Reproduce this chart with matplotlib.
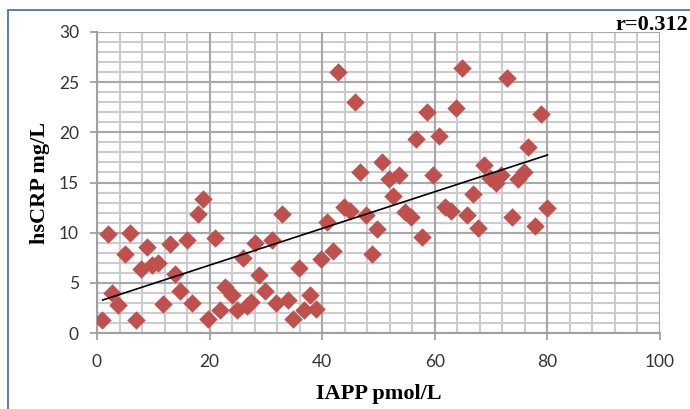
import matplotlib
matplotlib.use("Agg")
import matplotlib.pyplot as plt
import numpy as np
from matplotlib.patches import Rectangle

iapp = [0.9, 1.9, 2.7, 3.8, 5.0, 5.9, 6.9, 7.9, 8.8, 9.7, 10.9, 11.8, 12.9, 13.9,
        14.8, 15.9, 16.8, 17.9, 18.9, 19.8, 20.9, 21.9, 22.8, 23.9, 24.8, 25.9,
        26.6, 27.3, 28.0, 28.8, 29.8, 31.0, 31.8, 32.8, 33.9, 34.9, 35.8, 36.8,
        37.8, 38.9, 39.7, 40.8, 41.9, 42.8, 43.9, 44.9, 45.8, 46.7, 47.8, 48.8,
        49.8, 50.7, 51.8, 52.6, 53.7, 54.7, 55.8, 56.7, 57.8, 58.7, 59.7, 60.8,
        61.8, 62.9, 63.7, 64.8, 65.7, 66.7, 67.7, 68.8, 69.8, 70.9, 71.8, 72.8,
        73.7, 74.8, 75.8, 76.6, 77.8, 78.8, 79.9]
hscrp = [1.3, 9.9, 4.0, 2.8, 7.9, 10.0, 1.3, 6.4, 8.6, 6.8, 7.0, 2.9, 8.9, 5.9,
         4.2, 9.3, 3.0, 11.9, 13.4, 1.4, 9.5, 2.3, 4.6, 3.8, 2.3, 7.5,
         2.7, 3.1, 9.0, 5.8, 4.2, 9.3, 3.0, 11.9, 3.3, 1.4, 6.5, 2.3,
         3.8, 2.4, 7.4, 11.1, 8.2, 26.0, 12.6, 12.2, 23.0, 16.0, 11.8, 7.9,
         10.4, 17.0, 15.3, 13.7, 15.7, 12.1, 11.6, 19.3, 9.6, 22.0, 15.7, 19.6,
         12.6, 12.2, 22.4, 26.4, 11.8, 13.9, 10.5, 16.7, 15.4, 15.0, 15.7, 25.4,
         11.6, 15.3, 16.0, 18.5, 10.7, 21.8, 12.5]

trend_x = [1, 80]
trend_slope = 0.183
trend_intercept = 3.1
r_text = "r=0.312"

x_ticks = [0, 20, 40, 60, 80, 100]
y_ticks = [0, 5, 10, 15, 20, 25, 30]
x_minor_step = 4
y_minor_step = 1

W, H = 690, 409
fig = plt.figure(figsize=(W / 100, H / 100), dpi=100)
fig.patch.set_facecolor("white")

# blue outer frame
fig.patches.append(Rectangle((8 / W, -0.1), 1.2, 1 - 10 / H + 0.1,
                             transform=fig.transFigure, fill=False,
                             edgecolor="#4a6fc4", lw=1.3))

ax = fig.add_axes([97 / W, 1 - 333 / H, (660 - 97) / W, (333 - 32) / H])
xmin, xmax = x_ticks[0], x_ticks[-1]
ymin, ymax = y_ticks[0], y_ticks[-1]
ax.set_xlim(xmin, xmax)
ax.set_ylim(ymin, ymax)
ax.set_xticks(x_ticks)
ax.set_yticks(y_ticks)

# minor grid
xm = np.arange(xmin, xmax + 0.01, x_minor_step)
ym = np.arange(ymin, ymax + 0.01, y_minor_step)
ax.vlines(xm, ymin, ymax, colors="#cccccc", linewidth=1.5, zorder=0.5)
ax.hlines(ym, xmin, xmax, colors="#cccccc", linewidth=1.5, zorder=0.5)
# major grid
ax.vlines(x_ticks, ymin, ymax, colors="#a8a8a8", linewidth=1.5, zorder=0.6)
ax.hlines(y_ticks, xmin, xmax, colors="#a8a8a8", linewidth=1.5, zorder=0.6)

for s in ["top", "right"]:
    ax.spines[s].set_visible(False)
for s in ["left", "bottom"]:
    ax.spines[s].set_color("#a0a0a0")
    ax.spines[s].set_linewidth(1.5)

ax.tick_params(which="major", length=5, color="#a0a0a0", width=1.3,
               labelsize=12.5, labelcolor="#333333")
ax.tick_params(axis="y", pad=8)
ax.tick_params(axis="x", pad=10)
for lab in ax.get_xticklabels() + ax.get_yticklabels():
    lab.set_family(["Lato", "DejaVu Sans"])

ax.scatter(iapp, hscrp, marker="D", s=88, color="#c0504d", zorder=3,
           linewidths=0)
tx = np.array(trend_x)
ax.plot(tx, trend_intercept + trend_slope * tx, color="black", lw=1.2,
        zorder=4)

ax.set_xlabel("IAPP pmol/L", family="Liberation Serif", fontweight="bold",
              fontsize=16, labelpad=10)
ax.set_ylabel("hsCRP mg/L", family="Liberation Serif", fontweight="bold",
              fontsize=16, labelpad=6)

fig.text(688 / W, 1 - 25 / H, r_text, family="Liberation Serif",
         fontweight="bold", fontsize=16, ha="right", va="center")

fig.savefig("out.png", dpi=100)
